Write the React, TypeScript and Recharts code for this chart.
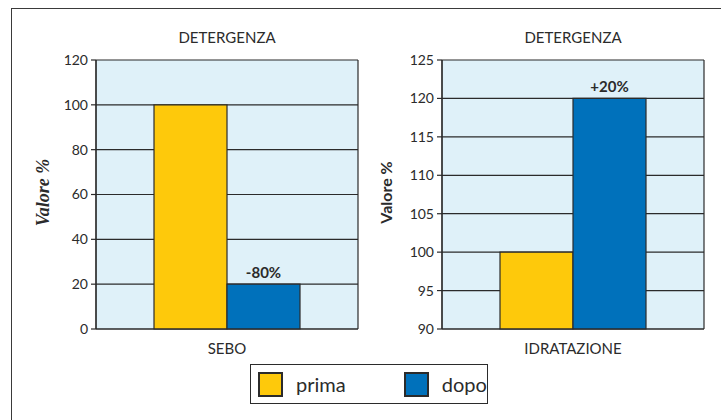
import { BarChart, Bar, XAxis, YAxis, CartesianGrid, LabelList } from "recharts";

// SEBO panel
const seboCategories = ["SEBO"];
const seboPrima = [100];
const seboDopo = [20];
const seboLabels = ["-80%"];
const seboTicks = [0, 20, 40, 60, 80, 100, 120];

// IDRATAZIONE panel
const idraCategories = ["IDRATAZIONE"];
const idraPrima = [100];
const idraDopo = [120];
const idraLabels = ["+20%"];
const idraTicks = [90, 95, 100, 105, 110, 115, 120, 125];

const YELLOW = "#fec90b";
const BLUE = "#0071bb";
const INK = "#2b2b2b";
const PLOT_BG = "#dff1f9";
const FONT = "Lato, 'Open Sans', sans-serif";
const SERIF = "'Liberation Serif', 'DejaVu Serif', serif";

function buildRows(cats: string[], prima: number[], dopo: number[], labels: string[]) {
  return cats.map((name, i) => ({ name, prima: prima[i], dopo: dopo[i], label: labels[i] }));
}

// the two panels use different faces for the axis title (serif italic vs sans)
const YLabel = ({ viewBox, dx, serif }: any) => {
  const { x, y, height } = viewBox;
  const cx = x + dx;
  const cy = y + height / 2 - 2;
  return (
    <text
      x={cx}
      y={cy}
      transform={`rotate(-90, ${cx}, ${cy})`}
      textAnchor="middle"
      dominantBaseline="central"
      fill={INK}
      fontSize={serif ? 18 : 16}
      fontWeight="bold"
      fontStyle={serif ? "italic" : "normal"}
      fontFamily={serif ? SERIF : FONT}
    >
      Valore %
    </text>
  );
};

interface PanelProps {
  left: number;
  rows: any[];
  ticks: number[];
  domain: [number, number];
  labelX: number;
  serif?: boolean;
}

function Panel({ left, rows, ticks, domain, labelX, serif }: PanelProps) {
  const plotLeft = 96;
  const plotRight = 358;
  return (
    <div style={{ position: "absolute", left, top: 0, width: 360, height: 380 }}>
      <div
        style={{
          position: "absolute",
          top: 28,
          left: plotLeft,
          width: plotRight - plotLeft,
          textAlign: "center",
          fontFamily: FONT,
          fontSize: 15,
          color: INK,
        }}
      >
        DETERGENZA
      </div>
      <BarChart
        width={360}
        height={380}
        data={rows}
        margin={{ top: 60, right: 2, left: 0, bottom: 21 }}
        barCategoryGap={58}
        barGap={0}
      >
        <CartesianGrid
          stroke={INK}
          strokeWidth={1.2}
          fill={PLOT_BG}
          fillOpacity={1}
          verticalPoints={[plotLeft, plotRight]}
          horizontalValues={ticks}
        />
        <XAxis
          dataKey="name"
          height={30}
          axisLine={{ stroke: INK, strokeWidth: 1.2 }}
          tickLine={false}
          tick={{ fill: INK, fontSize: 15, fontFamily: FONT }}
          tickMargin={8}
        />
        <YAxis
          width={96}
          domain={domain}
          ticks={ticks}
          interval={0}
          axisLine={{ stroke: INK, strokeWidth: 1.2 }}
          tickLine={{ stroke: INK, strokeWidth: 1.2 }}
          tickSize={5}
          tickMargin={3}
          tick={{ fill: INK, fontSize: 14, fontFamily: FONT }}
          label={<YLabel dx={labelX} serif={serif} />}
        />
        <Bar dataKey="prima" fill={YELLOW} stroke={INK} strokeWidth={1.2} isAnimationActive={false} />
        <Bar dataKey="dopo" fill={BLUE} stroke={INK} strokeWidth={1.2} isAnimationActive={false}>
          <LabelList
            dataKey="label"
            position="top"
            offset={6}
            fill={INK}
            fontSize={15}
            fontWeight="bold"
            fontFamily={FONT}
          />
        </Bar>
      </BarChart>
    </div>
  );
}

function Swatch({ color }: { color: string }) {
  return (
    <div
      style={{
        width: 21,
        height: 21,
        background: color,
        border: `2px solid ${INK}`,
      }}
    />
  );
}

export default function App() {
  const seboRows = buildRows(seboCategories, seboPrima, seboDopo, seboLabels);
  const idraRows = buildRows(idraCategories, idraPrima, idraDopo, idraLabels);
  return (
    <div
      style={{
        position: "fixed",
        left: 0,
        top: 0,
        width: 721,
        height: 420,
        background: "#ffffff",
        overflow: "hidden",
      }}
    >
      <div
        style={{
          position: "absolute",
          left: 11,
          top: 8,
          width: 720,
          height: 420,
          borderLeft: "1.5px solid #3a3a3a",
          borderTop: "1.5px solid #3a3a3a",
        }}
      />
      <Panel left={0} rows={seboRows} ticks={seboTicks} domain={[0, 120]} labelX={43} serif />
      <Panel left={346} rows={idraRows} ticks={idraTicks} domain={[90, 125]} labelX={39} />
      <div
        style={{
          position: "absolute",
          left: 250,
          top: 364,
          width: 236,
          height: 38,
          border: `1.2px solid ${INK}`,
          background: "#ffffff",
          display: "flex",
          alignItems: "center",
          fontFamily: FONT,
          fontSize: 20,
          color: INK,
        }}
      >
        <div style={{ display: "flex", alignItems: "center", marginLeft: 7 }}>
          <Swatch color={YELLOW} />
          <span style={{ marginLeft: 13 }}>prima</span>
        </div>
        <div style={{ display: "flex", alignItems: "center", marginLeft: 58 }}>
          <Swatch color={BLUE} />
          <span style={{ marginLeft: 13 }}>dopo</span>
        </div>
      </div>
    </div>
  );
}
